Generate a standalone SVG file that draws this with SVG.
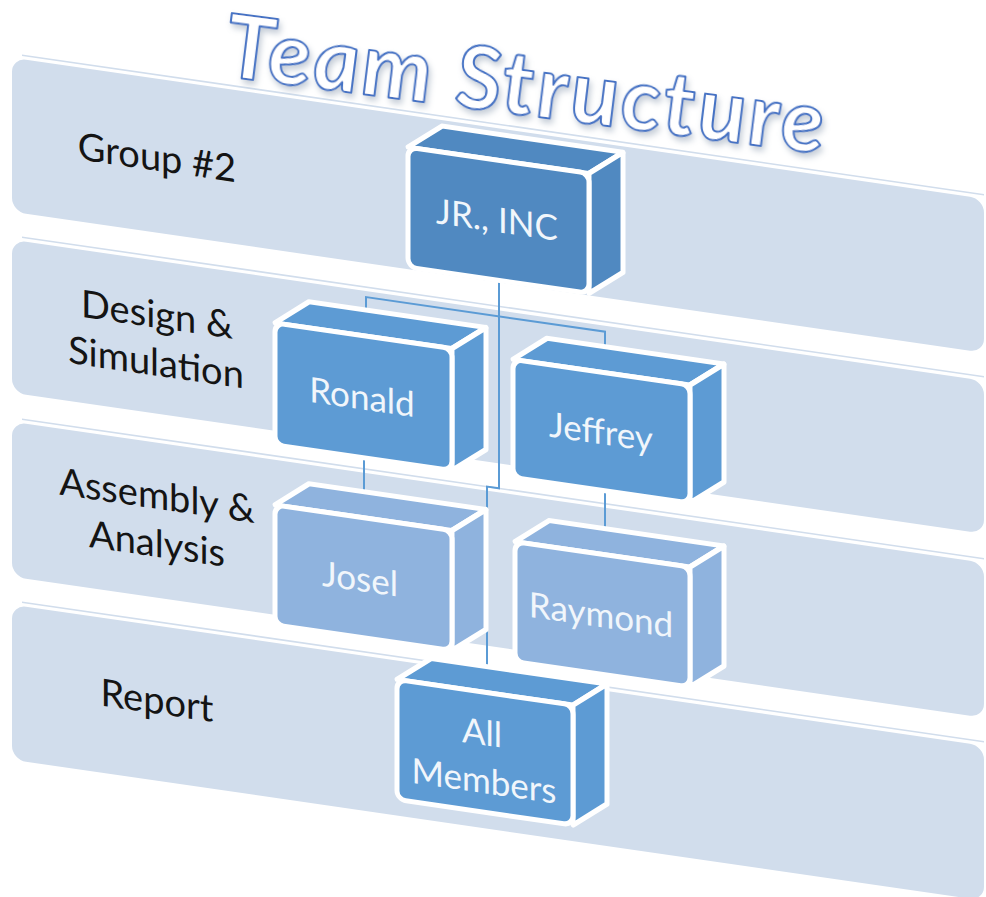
<svg xmlns="http://www.w3.org/2000/svg" width="986" height="897" viewBox="0 0 986 897">
<defs>
<filter id="tshadow" x="-5%" y="-60%" width="110%" height="220%">
<feDropShadow dx="2" dy="4" stdDeviation="3" flood-color="#7f8fa6" flood-opacity="0.45"/>
</filter>
</defs>
<style>
.band{fill:#D1DDEC}
.hl{fill:none;stroke:#D1DDEC;stroke-width:1.6}
.lbl{font-family:Lato,"Open Sans","Liberation Sans",sans-serif;font-size:38px;fill:#141414;text-anchor:middle}
.face{stroke:#FFFFFF;stroke-width:5;stroke-linejoin:round}
.c1{fill:#5089C1}
.c2{fill:#5D9BD4}
.c3{fill:#8FB3DE}
.ntx{font-family:Lato,"Open Sans","Liberation Sans",sans-serif;font-size:35px;fill:#F1F6FB;text-anchor:middle}
.conn{fill:none;stroke:#5B9BD5;stroke-width:2}
.title{font-family:Lato,"Open Sans","Liberation Sans",sans-serif;font-style:italic;font-weight:700;font-size:88px;fill:#FFFFFF;stroke:#4472C4;stroke-width:2;stroke-linejoin:round}
</style>
<rect x="0" y="0" width="986" height="897" fill="#FFFFFF"/>
<g transform="matrix(1 0.145 0 1 0 0)">
  <g id="bands">
    <g id="band-group2">
      <rect class="band" x="12" y="56" width="972" height="154" rx="14"/>
      <line class="hl" x1="22" y1="52" x2="984" y2="52"/>
      <text class="lbl" x="157" y="148">Group #2</text>
    </g>
    <g id="band-design">
      <rect class="band" x="12" y="238" width="972" height="153" rx="14"/>
      <line class="hl" x1="22" y1="234" x2="984" y2="234"/>
      <text class="lbl" x="157" y="305">Design &amp;</text>
      <text class="lbl" x="156" y="353">Simulation</text>
    </g>
    <g id="band-assembly">
      <rect class="band" x="12" y="420" width="972" height="155" rx="14"/>
      <line class="hl" x1="22" y1="416" x2="984" y2="416"/>
      <text class="lbl" x="157" y="486">Assembly &amp;</text>
      <text class="lbl" x="157" y="534">Analysis</text>
    </g>
    <g id="band-report">
      <rect class="band" x="12" y="603" width="972" height="155" rx="14"/>
      <line class="hl" x1="22" y1="599" x2="984" y2="599"/>
      <text class="lbl" x="157" y="691">Report</text>
    </g>
  </g>
  <g id="connectors">
    <path class="conn" d="M499,210 V416 H487 V600"/>
    <path class="conn" stroke="#7FAADC" d="M366,264 V244 H605 V266"/>
    <path class="conn" d="M364,405 V448"/>
    <path class="conn" d="M605,403 V450"/>
  </g>
  <g id="node-jr">
    <path class="face c1" d="M408,88 L442,62 L623,62 L589,88 Z"/>
    <path class="face c1" d="M589,88 L623,62 L623,182 L589,208 Z"/>
    <rect class="face c1" x="408" y="88" width="181" height="120" rx="9"/>
    <text class="ntx" x="497" y="160">JR., INC</text>
  </g>
  <g id="node-ronald">
    <path class="face c2" d="M275,283 L309,257 L486,257 L452,283 Z"/>
    <path class="face c2" d="M452,283 L486,257 L486,379 L452,405 Z"/>
    <rect class="face c2" x="275" y="283" width="177" height="122" rx="9"/>
    <text class="ntx" x="362" y="357">Ronald</text>
  </g>
  <g id="node-jeffrey">
    <path class="face c2" d="M513,285 L547,259 L724,259 L690,285 Z"/>
    <path class="face c2" d="M690,285 L724,259 L724,377 L690,403 Z"/>
    <rect class="face c2" x="513" y="285" width="177" height="118" rx="9"/>
    <text class="ntx" x="601" y="357">Jeffrey</text>
  </g>
  <g id="node-josel">
    <path class="face c3" d="M275,465 L309,439 L486,439 L452,465 Z"/>
    <path class="face c3" d="M452,465 L486,439 L486,559 L452,585 Z"/>
    <rect class="face c3" x="275" y="465" width="177" height="120" rx="9"/>
    <text class="ntx" x="360" y="539">Josel</text>
  </g>
  <g id="node-raymond">
    <path class="face c3" d="M515,467 L549,441 L724,441 L690,467 Z"/>
    <path class="face c3" d="M690,467 L724,441 L724,561 L690,587 Z"/>
    <rect class="face c3" x="515" y="467" width="175" height="120" rx="9"/>
    <text class="ntx" x="601" y="540">Raymond</text>
  </g>
  <g id="node-all">
    <path class="face c2" d="M397,622 L431,596 L607,596 L573,622 Z"/>
    <path class="face c2" d="M573,622 L607,596 L607,716 L573,742 Z"/>
    <rect class="face c2" x="397" y="622" width="176" height="120" rx="9"/>
    <text class="ntx" x="482" y="675">All</text>
    <text class="ntx" x="484" y="723">Members</text>
  </g>
</g>
<g id="title" transform="matrix(1 0.13 0 1 0 0)" filter="url(#tshadow)">
  <text class="title" x="226" y="47" textLength="598" lengthAdjust="spacing">Team Structure</text>
</g>
</svg>
